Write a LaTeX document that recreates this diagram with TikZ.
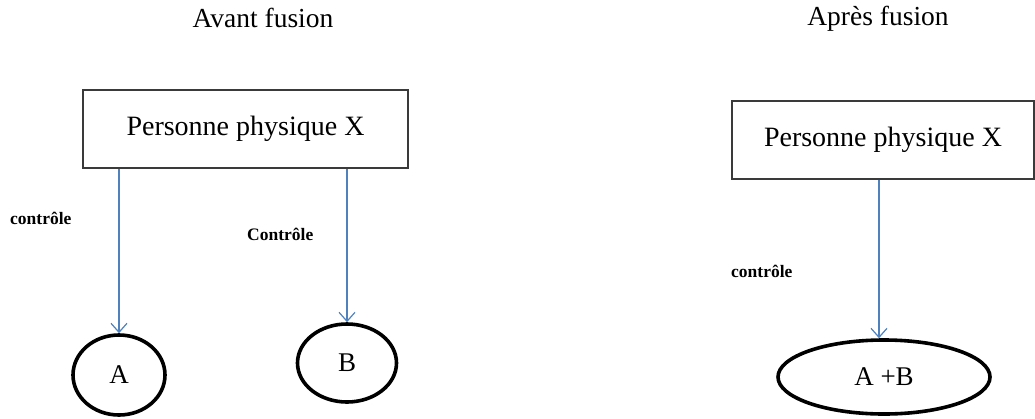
\documentclass[tikz,border=0pt]{standalone}
\usepackage{fontspec}
\setmainfont{Liberation Serif}
\usetikzlibrary{shapes.geometric,arrows.meta}
\definecolor{arrowblue}{HTML}{4F81BD}
\definecolor{boxgray}{HTML}{3A3A3A}
\tikzset{
  pbox/.style={draw=boxgray, line width=1.5pt, fill=white, inner sep=0pt, font=\fontsize{28}{32}\selectfont},
  ent/.style={ellipse, draw=black, line width=3.6pt, inner sep=0pt, font=\fontsize{27}{30}\selectfont},
  ttl/.style={anchor=base, inner sep=0pt, font=\fontsize{27.5}{30}\selectfont},
  lbl/.style={anchor=base west, inner sep=0pt, font=\fontsize{17.5}{20}\selectfont\bfseries},
  ctl/.style={draw=arrowblue, line width=1.2pt, -{Straight Barb[length=9pt,width=16pt,line width=1.2pt]}}
}
\begin{document}
\begin{tikzpicture}[x=1pt,y=-1pt]
\useasboundingbox (0,0) rectangle (1035,418);
% titles
\node[ttl] (t1) at (263,27) {Avant fusion};
\node[ttl] (t2) at (878,25) {Après fusion};
% boxes
\node[pbox, minimum width=325pt, minimum height=78pt] (p1) at (245.5,129) {Personne physique X};
\node[pbox, minimum width=302pt, minimum height=78pt] (p2) at (883,140) {Personne physique X};
% entities
\node[ent, minimum width=92pt, minimum height=80pt] (a) at (119,375) {A};
\node[ent, minimum width=99pt, minimum height=78pt] (b) at (347,363) {B};
\node[ent, minimum width=212pt, minimum height=74pt] (ab) at (884,377) {A +B};
% labels
\node[lbl] (l1) at (10,224) {contrôle};
\node[lbl] (l2) at (247,240) {Contrôle};
\node[lbl] (l3) at (731,277) {contrôle};
% connectors
\draw[ctl] (p1.south -| a.north) -- (a.north);
\draw[ctl] (p1.south -| b.north) -- (b.north);
\coordinate (abtop) at ([xshift=-5pt]ab.north);
\draw[ctl] (p2.south -| abtop) -- (abtop);
\end{tikzpicture}
\end{document}
